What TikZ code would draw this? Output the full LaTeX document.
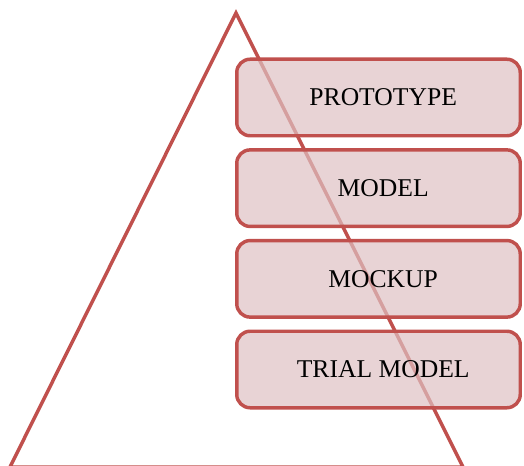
\documentclass[tikz,border=0pt]{standalone}
\usepackage{fontspec}
\setmainfont{Liberation Serif}
\usetikzlibrary{positioning}

\definecolor{redline}{RGB}{192,80,77}
\definecolor{pinkfill}{RGB}{222,193,195}

\begin{document}
\begin{tikzpicture}[x=0.75pt,y=-0.75pt]
		\tikzstyle{Stage} = [rectangle, rounded corners=10pt, draw=redline, line width=2.6pt,
			fill=pinkfill, fill opacity=0.7, text opacity=1,
			minimum width=212.6pt, minimum height=57.4pt, inner sep=0pt,
			execute at begin node=\hspace*{7pt},
			font=\fontsize{19.2}{22}\selectfont]
		\tikzstyle{Side} = [draw=redline, line width=2.6pt, line join=miter]

		\useasboundingbox (0,0) rectangle (524,466);
		\clip (0,0) rectangle (524,466);

		% the triangle behind the boxes
		\coordinate (apex) at (236,13);
		\coordinate (baseL) at (10,467);
		\coordinate (baseR) at (463,467);
		\draw [Side] (apex) -- (baseL) -- (baseR) -- cycle;

		\node (proto) at (378.5,97.5) [Stage] {PROTOTYPE};
		\node (model) [Stage, below=8pt of proto] {MODEL};
		\node (mock)  [Stage, below=8pt of model] {MOCKUP};
		\node (trial) [Stage, below=8pt of mock] {TRIAL MODEL};
	\end{tikzpicture}
\end{document}
